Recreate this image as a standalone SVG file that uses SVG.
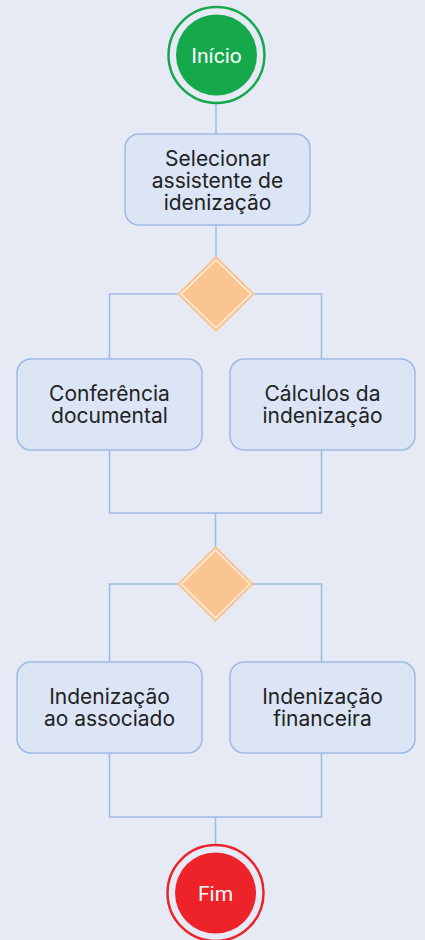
<svg xmlns="http://www.w3.org/2000/svg" width="425" height="940" viewBox="0 0 425 940">
<style>
.box{fill:#DCE5F6;stroke:#9DBAE4;stroke-width:1.5}
.lbl{font-family:Inter,"Noto Sans",sans-serif;font-size:21px;fill:#222;text-anchor:middle}
.term{font-family:Roboto,"Noto Sans",sans-serif;font-size:21px;fill:#fff;text-anchor:middle}
.con{fill:none;stroke:#9DBAE4;stroke-width:1.5}
.dia{fill:#FBC591;stroke:#FBC591;stroke-width:1.5}
.dia2{fill:none;stroke:#FFF4EA;stroke-width:1.2}
</style>
<rect width="425" height="940" fill="#E6EAF5"/>
<g id="connectors">
<path class="con" d="M216 103V134"/>
<path class="con" d="M216 225V257"/>
<path class="con" d="M178 294H109.5V359M254 294H321.5V359"/>
<path class="con" d="M109.5 450V513H321.5V450M215.5 513V547"/>
<path class="con" d="M178 584H109.5V662M253 584H321.5V662"/>
<path class="con" d="M109.5 753V817H321.5V753M215.5 817V845"/>
</g>
<g id="start">
<circle cx="216.5" cy="55" r="48" fill="none" stroke="#16A94C" stroke-width="2.5"/>
<circle cx="216.5" cy="55" r="40.5" fill="#16A94C"/>
<text class="term" x="216.5" y="62.5">Início</text>
</g>
<g id="select">
<rect class="box" x="125" y="134" width="185" height="91" rx="14"/>
<text class="lbl" x="217.5" y="165.5">Selecionar</text>
<text class="lbl" x="217.5" y="187.5">assistente de</text>
<text class="lbl" x="217.5" y="209.5">idenização</text>
</g>
<g id="decision1">
<path class="dia" d="M216 257L254 294L216 331L178 294Z"/>
<path class="dia2" d="M216 260L251 294L216 328L181 294Z"/>
</g>
<g id="conferencia">
<rect class="box" x="17" y="359" width="185" height="91" rx="14"/>
<text class="lbl" x="109.5" y="400.5">Conferência</text>
<text class="lbl" x="109.5" y="422.5">documental</text>
</g>
<g id="calculos">
<rect class="box" x="230" y="359" width="185" height="91" rx="14"/>
<text class="lbl" x="322.5" y="400.5">Cálculos da</text>
<text class="lbl" x="322.5" y="422.5">indenização</text>
</g>
<g id="decision2">
<path class="dia" d="M215.5 547L253 584L215.5 621L178 584Z"/>
<path class="dia2" d="M215.5 550L250 584L215.5 618L181 584Z"/>
</g>
<g id="associado">
<rect class="box" x="17" y="662" width="185" height="91" rx="14"/>
<text class="lbl" x="109.5" y="704">Indenização</text>
<text class="lbl" x="109.5" y="726">ao associado</text>
</g>
<g id="financeira">
<rect class="box" x="230" y="662" width="185" height="91" rx="14"/>
<text class="lbl" x="322.5" y="704">Indenização</text>
<text class="lbl" x="322.5" y="726">financeira</text>
</g>
<g id="end">
<circle cx="215.5" cy="893" r="48" fill="none" stroke="#EE2229" stroke-width="2.5"/>
<circle cx="215.5" cy="893" r="40.5" fill="#EE2229"/>
<text class="term" x="215.5" y="900.5">Fim</text>
</g>
</svg>
